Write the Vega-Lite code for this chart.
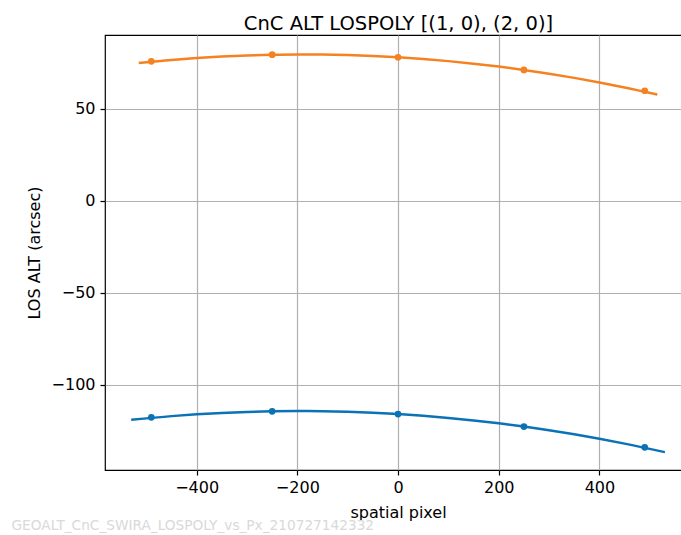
{
  "$schema": "https://vega.github.io/schema/vega-lite/v6.json",
  "width": 577,
  "height": 435,
  "autosize": {"type": "none"},
  "padding": {"left": 105, "top": 35, "right": 0, "bottom": 65},
  "background": "white",
  "config": {"font": "DejaVu Sans", "view": {"stroke": "#000000", "strokeWidth": 1.2}},
  "title": {"text": "CnC ALT LOSPOLY [(1, 0), (2, 0)]", "fontSize": 19.5, "fontWeight": "normal", "color": "#000000", "font": "DejaVu Sans", "anchor": "middle", "dx": 5, "offset": -18, "baseline": "bottom"},
  "datasets": {
    "curve": [
      {"series": "(1, 0)", "px": -530, "alt": -118.91},
      {"series": "(1, 0)", "px": -450, "alt": -116.92},
      {"series": "(1, 0)", "px": -400, "alt": -115.94},
      {"series": "(1, 0)", "px": -350, "alt": -115.18},
      {"series": "(1, 0)", "px": -300, "alt": -114.64},
      {"series": "(1, 0)", "px": -250, "alt": -114.30},
      {"series": "(1, 0)", "px": -200, "alt": -114.18},
      {"series": "(1, 0)", "px": -150, "alt": -114.26},
      {"series": "(1, 0)", "px": -100, "alt": -114.56},
      {"series": "(1, 0)", "px": -50, "alt": -115.08},
      {"series": "(1, 0)", "px": 0, "alt": -115.80},
      {"series": "(1, 0)", "px": 50, "alt": -116.74},
      {"series": "(1, 0)", "px": 100, "alt": -117.88},
      {"series": "(1, 0)", "px": 150, "alt": -119.24},
      {"series": "(1, 0)", "px": 200, "alt": -120.82},
      {"series": "(1, 0)", "px": 250, "alt": -122.60},
      {"series": "(1, 0)", "px": 300, "alt": -124.60},
      {"series": "(1, 0)", "px": 350, "alt": -126.80},
      {"series": "(1, 0)", "px": 400, "alt": -129.22},
      {"series": "(1, 0)", "px": 450, "alt": -131.86},
      {"series": "(1, 0)", "px": 530, "alt": -136.51},
      {"series": "(2, 0)", "px": -515, "alt": 74.98},
      {"series": "(2, 0)", "px": -450, "alt": 76.66},
      {"series": "(2, 0)", "px": -400, "alt": 77.70},
      {"series": "(2, 0)", "px": -350, "alt": 78.52},
      {"series": "(2, 0)", "px": -300, "alt": 79.12},
      {"series": "(2, 0)", "px": -250, "alt": 79.50},
      {"series": "(2, 0)", "px": -200, "alt": 79.66},
      {"series": "(2, 0)", "px": -150, "alt": 79.60},
      {"series": "(2, 0)", "px": -100, "alt": 79.32},
      {"series": "(2, 0)", "px": -50, "alt": 78.82},
      {"series": "(2, 0)", "px": 0, "alt": 78.10},
      {"series": "(2, 0)", "px": 50, "alt": 77.16},
      {"series": "(2, 0)", "px": 100, "alt": 76.00},
      {"series": "(2, 0)", "px": 150, "alt": 74.62},
      {"series": "(2, 0)", "px": 200, "alt": 73.02},
      {"series": "(2, 0)", "px": 250, "alt": 71.20},
      {"series": "(2, 0)", "px": 300, "alt": 69.16},
      {"series": "(2, 0)", "px": 350, "alt": 66.90},
      {"series": "(2, 0)", "px": 400, "alt": 64.42},
      {"series": "(2, 0)", "px": 450, "alt": 61.72},
      {"series": "(2, 0)", "px": 515, "alt": 57.88}
    ],
    "pts": [
      {"series": "(1, 0)", "px": -490, "alt": -117.6},
      {"series": "(1, 0)", "px": -250, "alt": -114.3},
      {"series": "(1, 0)", "px": 0, "alt": -115.8},
      {"series": "(1, 0)", "px": 250, "alt": -122.6},
      {"series": "(1, 0)", "px": 490, "alt": -133.9},
      {"series": "(2, 0)", "px": -490, "alt": 75.9},
      {"series": "(2, 0)", "px": -250, "alt": 79.5},
      {"series": "(2, 0)", "px": 0, "alt": 78.1},
      {"series": "(2, 0)", "px": 250, "alt": 71.2},
      {"series": "(2, 0)", "px": 490, "alt": 59.9}
    ]
  },
  "encoding": {
    "y": {
      "field": "alt", "type": "quantitative",
      "scale": {"domain": [-146.2, 90.2], "nice": false, "zero": false},
      "axis": {
        "values": [-100, -50, 0, 50], "format": "d",
        "title": "LOS ALT (arcsec)",
        "domain": false,
        "tickColor": "#000000", "tickSize": 5, "tickWidth": 1.2,
        "labelFontSize": 16, "labelColor": "#000000", "labelPadding": 5,
        "grid": true, "gridColor": "#b0b0b0", "gridWidth": 1.2,
        "titleFontSize": 16, "titleFontWeight": "normal", "titleColor": "#000000",
        "titleX": -71, "titleY": 217.5, "titleAngle": 270, "titleAlign": "center", "titleBaseline": "middle"
      }
    },
    "color": {
      "field": "series", "type": "nominal",
      "scale": {"domain": ["(1, 0)", "(2, 0)"], "range": ["#0a72b5", "#f58220"]},
      "legend": null
    }
  },
  "layer": [
    {
      "data": {"name": "curve"},
      "mark": {"type": "line", "interpolate": "monotone", "strokeWidth": 2.5},
      "encoding": {
        "x": {
          "field": "px", "type": "quantitative",
          "scale": {"domain": [-582, 564], "nice": false, "zero": false},
          "axis": {
            "orient": "bottom",
            "values": [-400, -200, 0, 200, 400], "format": "d",
            "title": "spatial pixel",
            "domain": false,
            "tickColor": "#000000", "tickSize": 5, "tickWidth": 1.2,
            "labelFontSize": 16, "labelColor": "#000000", "labelPadding": 4,
            "grid": true, "gridColor": "#b0b0b0", "gridWidth": 1.2,
            "titleFontSize": 16, "titleFontWeight": "normal", "titleColor": "#000000",
            "titleX": 293, "titleY": 42, "titleAlign": "center", "titleBaseline": "middle"
          }
        }
      }
    },
    {
      "data": {"name": "pts"},
      "mark": {"type": "point", "filled": true, "opacity": 1, "size": 45},
      "encoding": {
        "x": {
          "field": "px", "type": "quantitative",
          "scale": {"domain": [-582, 564], "nice": false, "zero": false},
          "axis": {
            "orient": "bottom",
            "labels": false, "ticks": false, "grid": false, "domain": false,
            "title": "GEOALT_CnC_SWIRA_LOSPOLY_vs_Px_210727142332",
            "titleFontSize": 13.7, "titleFontWeight": "normal", "titleColor": "#d9d9d9",
            "titleX": -94, "titleY": 55, "titleAlign": "left", "titleBaseline": "middle", "titleAngle": 0
          }
        }
      }
    }
  ],
  "resolve": {"axis": {"x": "independent"}}
}
